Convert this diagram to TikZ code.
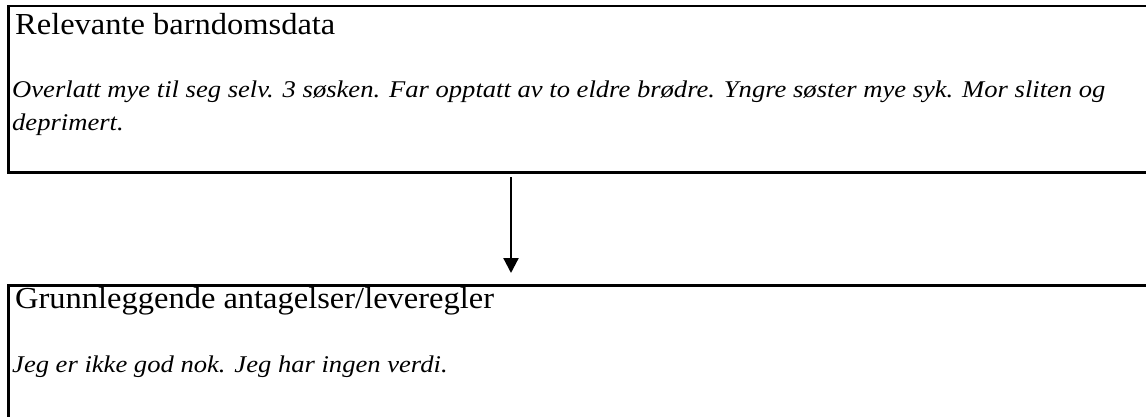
\documentclass[tikz,border=0pt]{standalone}
\usepackage{fontspec}
\setmainfont{Liberation Serif}
\newfontfamily\titlefont{Liberation Serif}[FakeStretch=1.065]
\newfontfamily\bodyfont{Liberation Serif}[FakeStretch=1.108]
\usetikzlibrary{arrows.meta}
\begin{document}
\begin{tikzpicture}[x=1pt,y=-1pt,
  boxframe/.style={draw, line width=2.6pt, inner sep=0pt, anchor=north west},
  titletext/.style={anchor=base west, inner sep=0pt, font=\titlefont\fontsize{30.5}{36}\selectfont},
  bodytext/.style={anchor=base west, inner sep=0pt, font=\bodyfont\fontsize{24}{30}\selectfont\itshape},
  flow/.style={-{Triangle[length=15pt,width=15pt]}, line width=2.2pt}]
\useasboundingbox (0,0) rectangle (1146,417);
\clip (0,0) rectangle (1146,417);
\node[boxframe, minimum width=1150pt, minimum height=166.6pt] (topbox) at (7.3,4.7) {};
\node[boxframe, minimum width=1150pt, minimum height=200pt] (botbox) at (7.3,284) {};
\node[titletext] (t1) at (15,35) {Relevante barndomsdata};
\node[bodytext] (b1) at (12,97.5) {Overlatt mye til seg selv. 3 søsken. Far opptatt av to eldre brødre. Yngre søster mye syk. Mor sliten og};
\node[bodytext] (b2) at (12,130.5) {deprimert.};
\node[titletext] (t2) at (15,308.5) {Grunnleggende antagelser/leveregler};
\node[bodytext] (b3) at (12,372) {Jeg er ikke god nok. Jeg har ingen verdi.};
\coordinate (a1) at (511,177);
\coordinate (a2) at (511,273);
\draw[flow] (a1) -- (a2);
\end{tikzpicture}
\end{document}
